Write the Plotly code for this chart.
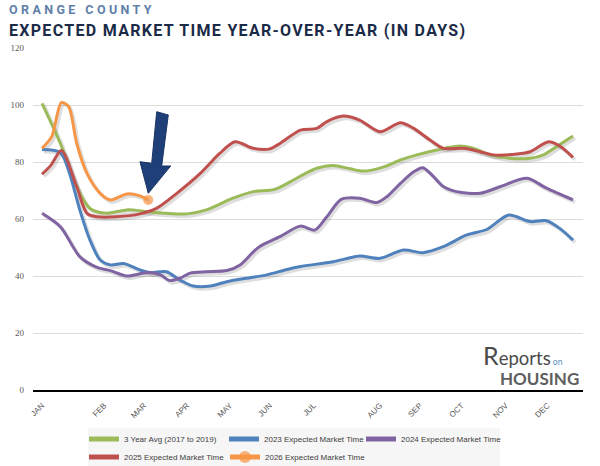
import plotly.graph_objects as go

# ---- data (x = week of year, y = expected market time in days) ----
avg_x = [0.0, 1.8, 3.4, 4.7, 6.3, 8.3, 10.3, 12.2, 14.2, 16.1, 18.7, 20.7, 22.7, 24.3, 25.3,
         26.9, 28.5, 30.2, 31.5, 33.4, 35.1, 36.7, 39.0, 40.9, 42.2, 43.9, 45.8, 47.8, 49.1, 50.4, 52.0]
avg_y = [100.6, 86.5, 71.3, 63.7, 62.0, 63.2, 62.6, 62.0, 61.8, 63.2, 67.3, 69.6, 70.3, 73.0, 75.0,
         77.8, 78.8, 77.6, 76.8, 78.2, 80.7, 82.5, 84.5, 85.6, 84.8, 82.5, 81.3, 81.3, 82.5, 85.4, 89.1]

y2023_x = [0.0, 1.8, 2.7, 3.7, 4.7, 5.7, 6.7, 8.0, 9.6, 10.6, 12.2, 13.5, 14.8, 16.5, 18.1, 20.0,
           22.0, 24.0, 25.3, 28.5, 31.1, 33.1, 35.4, 37.3, 39.3, 41.6, 43.6, 45.7, 47.8, 49.4, 50.7, 52.0]
y2023_y = [84.4, 83.3, 76.0, 63.2, 52.6, 45.6, 43.9, 44.4, 42.1, 41.2, 41.5, 38.6, 36.5, 36.5, 38.0, 39.2,
           40.4, 42.3, 43.3, 45.0, 47.0, 46.2, 49.1, 48.2, 50.3, 54.4, 56.4, 61.4, 59.1, 59.4, 56.7, 52.6]

y2024_x = [0.0, 1.8, 3.7, 5.4, 6.7, 8.3, 10.3, 11.6, 12.5, 13.5, 14.5, 16.1, 18.1, 19.4, 20.7, 21.3,
           23.3, 25.3, 26.7, 27.9, 29.3, 31.1, 32.8, 33.8, 35.1, 36.4, 37.3, 38.2, 39.3, 40.6, 42.9,
           44.9, 47.5, 49.4, 52.0]
y2024_y = [62.0, 57.3, 46.8, 43.0, 41.9, 40.0, 41.2, 40.4, 38.4, 39.2, 41.0, 41.5, 41.9, 43.9, 48.5, 50.3,
           53.8, 57.5, 56.1, 60.8, 66.9, 67.3, 65.8, 67.9, 72.5, 76.6, 78.0, 75.4, 71.4, 69.6, 69.0,
           71.4, 74.3, 70.8, 66.7]

y2025_x = [0.0, 0.9, 1.9, 3.4, 4.4, 5.4, 7.3, 9.6, 11.2, 13.2, 15.5, 17.4, 18.9, 20.7, 22.3, 23.3,
           25.3, 26.9, 27.9, 29.5, 31.1, 33.1, 35.1, 36.4, 38.0, 39.3, 41.3, 42.9, 44.2, 46.5, 47.8,
           49.6, 50.7, 52.0]
y2025_y = [75.7, 79.0, 84.0, 71.3, 62.0, 60.8, 60.8, 61.8, 63.7, 69.0, 76.0, 83.0, 87.1, 84.8, 84.6, 86.5,
           91.2, 91.8, 94.2, 96.1, 94.7, 90.6, 93.8, 91.8, 87.7, 84.8, 84.8, 83.6, 82.5, 82.8, 83.6,
           87.1, 85.6, 81.6]

y2026_x = [0.0, 0.95, 1.9, 2.6, 3.4, 4.4, 5.7, 6.7, 8.3, 9.6, 10.4]
y2026_y = [84.8, 88.9, 100.8, 99.5, 86.5, 76.0, 69.0, 66.7, 68.8, 68.1, 66.7]

month_labels = ["JAN", "FEB", "MAR", "APR", "MAY", "JUN", "JUL", "AUG", "SEP", "OCT", "NOV", "DEC"]
month_ticks = [0.0, 6.1, 10.0, 14.2, 18.4, 22.3, 26.6, 33.1, 37.0, 41.1, 45.4, 49.5]

series = [
    ("3 Year Avg (2017 to 2019)", avg_x, avg_y, "#9bbb59"),
    ("2023 Expected Market Time", y2023_x, y2023_y, "#4f81bd"),
    ("2024 Expected Market Time", y2024_x, y2024_y, "#8064a2"),
    ("2025 Expected Market Time", y2025_x, y2025_y, "#c0504d"),
    ("2026 Expected Market Time", y2026_x, y2026_y, "#f79646"),
]
legend_ids = ["legend", "legend2", "legend3", "legend4", "legend5"]
# legend entry anchors (page pixels): row 1 three entries, row 2 two entries
legend_pos = [(84, 439), (224, 439), (361, 439), (84, 457), (225, 457)]

fig = go.Figure()

# soft drop shadows (Excel style)
for name, xs, ys, col in series:
    fig.add_trace(go.Scatter(
        x=[v + 0.2 for v in xs], y=[v - 0.8 for v in ys], mode="lines",
        line=dict(color="rgba(0,0,0,0.13)", width=3.5, shape="spline", smoothing=0.8),
        showlegend=False, hoverinfo="skip"))

for (name, xs, ys, col), lg in zip(series, legend_ids):
    if name.startswith("2026"):
        sizes = [0] * (len(xs) - 1) + [10]
        fig.add_trace(go.Scatter(
            x=xs, y=ys, name=name, mode="lines+markers", legend=lg,
            line=dict(color=col, width=3, shape="spline", smoothing=0.8),
            marker=dict(color=col, size=sizes, line=dict(width=0))))
    else:
        fig.add_trace(go.Scatter(
            x=xs, y=ys, name=name, mode="lines", legend=lg,
            line=dict(color=col, width=3, shape="spline", smoothing=0.8)))

# positions given in page pixels relative to the plot area (x 33..583, y 48..390)
def px2paper(px, py):
    return (px - 33) / 550.0, (390 - py) / 342.0

# big navy arrow pointing at the 2026 line end
arrow_px = [(156.7, 111.7), (168.3, 115), (161.7, 166), (170.7, 166), (148.3, 193.3),
            (140, 161.7), (151.7, 163.3)]
pts = [px2paper(a, b) for a, b in arrow_px]
path = "M " + " L ".join(f"{a:.4f},{b:.4f}" for a, b in pts) + " Z"

lx0, ly0 = px2paper(88, 466)
lx1, ly1 = px2paper(500, 428)

legend_font = dict(family="Liberation Sans, Arial, sans-serif", size=8, color="#404040")
layout_legends = {}
for lg, (px, py) in zip(legend_ids, legend_pos):
    layout_legends[lg] = dict(
        orientation="h", x=px2paper(px, 0)[0], xanchor="left",
        y=px2paper(0, py)[1], yanchor="middle", bgcolor="rgba(0,0,0,0)",
        font=legend_font, itemwidth=30, itemsizing="constant")

fig.update_layout(
    width=600, height=466,
    template="none",
    margin=dict(l=33, r=17, t=48, b=76, autoexpand=False),
    paper_bgcolor="white", plot_bgcolor="white",
    showlegend=True,
    shapes=[
        dict(type="path", xref="paper", yref="paper", path=path,
             fillcolor="#1f3f78", line=dict(color="#1a3566", width=1), layer="above"),
        dict(type="rect", xref="paper", yref="paper", x0=lx0, y0=ly0, x1=lx1, y1=ly1,
             fillcolor="#f6f6f6", line=dict(width=0), layer="below"),
    ],
    annotations=[
        dict(xref="paper", yref="paper", x=px2paper(7, 0)[0], y=px2paper(0, 10)[1],
             xanchor="left", yanchor="middle", showarrow=False,
             text='<b><span style="letter-spacing:3.4px">ORANGE COUNTY</span></b>',
             font=dict(family="Roboto, sans-serif", size=12.5, color="#5f80a8")),
        dict(xref="paper", yref="paper", x=px2paper(7, 0)[0], y=px2paper(0, 30)[1],
             xanchor="left", yanchor="middle", showarrow=False,
             text='<b><span style="letter-spacing:1.3px">EXPECTED MARKET TIME YEAR-OVER-YEAR (IN DAYS)</span></b>',
             font=dict(family="Roboto, sans-serif", size=16, color="#1b2a47")),
        dict(xref="paper", yref="paper", x=px2paper(481, 0)[0], y=px2paper(0, 355)[1],
             xanchor="left", yanchor="middle", showarrow=False,
             text='<span style="font-size:25px">R</span>eports<span style="font-size:8.5px;fill:#5a8fc0"> on</span>',
             font=dict(family="Lato, sans-serif", size=18.5, color="#4a4a4a")),
        dict(xref="paper", yref="paper", x=px2paper(581, 0)[0], y=px2paper(0, 378)[1],
             xanchor="right", yanchor="middle", showarrow=False,
             text="<b>HOUSING</b>",
             font=dict(family="Lato, sans-serif", size=17, color="#5e5e5e")),
    ],
    **layout_legends,
)

fig.update_xaxes(
    range=[-0.881, 52.979], tickmode="array", tickvals=month_ticks, ticktext=month_labels,
    tickangle=-45, showgrid=False, zeroline=False, showline=True, linecolor="black", linewidth=1.5,
    ticks="", ticklabelstandoff=6, automargin=False,
    tickfont=dict(family="Liberation Sans, Arial, sans-serif", size=8, color="#595959"),
    fixedrange=True)
fig.update_yaxes(
    range=[0, 120], tickmode="array", tickvals=[0, 20, 40, 60, 80, 100, 120],
    showgrid=True, gridcolor="#dcdcdc", gridwidth=1, zeroline=False, showline=False,
    ticks="", ticklabelstandoff=8, automargin=False,
    tickfont=dict(family="Liberation Serif, DejaVu Serif, serif", size=9, color="#595959"),
    fixedrange=True)

fig.write_html("out.html", config={"displayModeBar": False},
               post_script="document.body.style.margin='0';")
